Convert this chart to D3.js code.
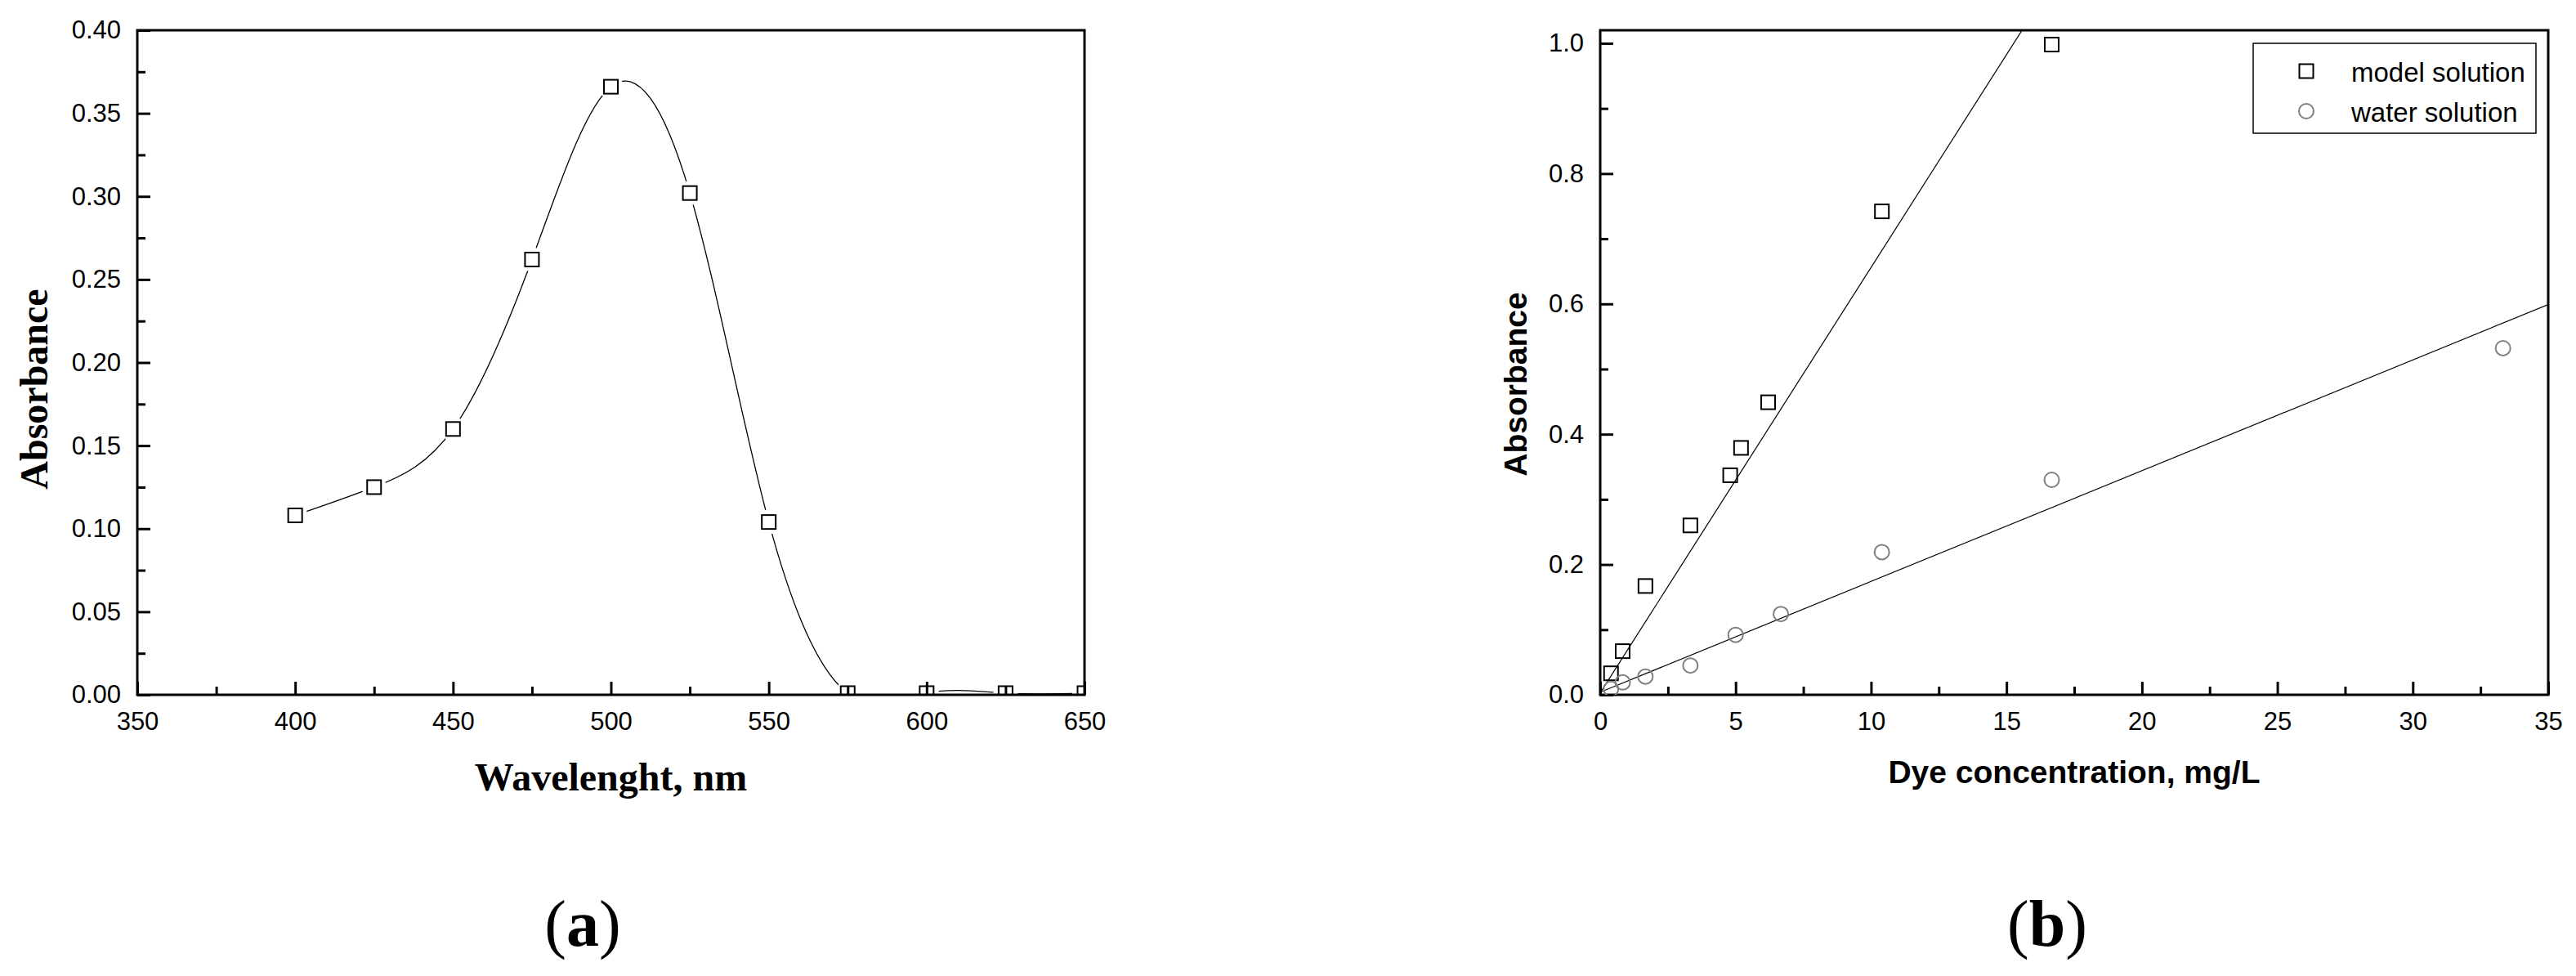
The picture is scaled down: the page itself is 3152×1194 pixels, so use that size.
<!DOCTYPE html>
<html><head><meta charset="utf-8">
<script src="https://cdn.jsdelivr.net/npm/d3@7"></script>
<style>body{margin:0;background:#fff}</style>
</head><body>
<svg id="chart" width="3152" height="1194" xmlns="http://www.w3.org/2000/svg"></svg>
<script>
// ---------- Panel (a): absorption spectrum ----------
const wavelengths = [400, 425, 450, 475, 500, 525, 550, 575, 600, 625, 650];
const absorbanceA = [0.108, 0.125, 0.160, 0.262, 0.366, 0.302, 0.104, 0.001, 0.001, 0.001, 0.001];
const aXMajor = [350, 400, 450, 500, 550, 600, 650];
const aXMinor = [375, 425, 475, 525, 575, 625];
const aYMajor = [0, 0.05, 0.10, 0.15, 0.20, 0.25, 0.30, 0.35, 0.40];
const aYMinor = [0.025, 0.075, 0.125, 0.175, 0.225, 0.275, 0.325, 0.375];

// ---------- Panel (b): calibration ----------
const modelConc = [0.4, 0.83, 1.67, 3.33, 4.8, 5.2, 6.2, 10.4, 16.67];
const modelAbs  = [0.033, 0.067, 0.167, 0.260, 0.337, 0.379, 0.449, 0.742, 0.998];
const waterConc = [0.4, 0.83, 1.67, 3.33, 5.0, 6.67, 10.4, 16.67, 33.33];
const waterAbs  = [0.009, 0.019, 0.028, 0.045, 0.092, 0.124, 0.219, 0.330, 0.532];
const modelFit = {intercept: 0.003, slope: 0.0653};
const waterFit = {intercept: 0.004, slope: 0.0170};
const fitRange = [0, 35];
const bXMajor = [0, 5, 10, 15, 20, 25, 30, 35];
const bXMinor = [2.5, 7.5, 12.5, 17.5, 22.5, 27.5, 32.5];
const bYMajor = [0, 0.2, 0.4, 0.6, 0.8, 1.0];
const bYMinor = [0.1, 0.3, 0.5, 0.7, 0.9];
const legendLabels = ["model solution", "water solution"];

const SANS = "'Liberation Sans', Arial, sans-serif";
const SERIF = "'Liberation Serif', 'Times New Roman', serif";

const svg = d3.select("#chart");
svg.append("rect").attr("width", 3152).attr("height", 1194).attr("fill", "#fff");
const defs = svg.append("defs");

function drawAxes(g, x, y, box, xMajor, xMinor, yMajor, yMinor, xFmt, yFmt) {
  const bottom = g.append("g").attr("transform", `translate(0,${box.bottom})`)
    .call(d3.axisBottom(x).tickValues(xMajor).tickFormat(xFmt).tickSize(-16).tickPadding(21));
  const bottomMinor = g.append("g").attr("transform", `translate(0,${box.bottom})`)
    .call(d3.axisBottom(x).tickValues(xMinor).tickFormat("").tickSize(-10));
  const left = g.append("g").attr("transform", `translate(${box.left},0)`)
    .call(d3.axisLeft(y).tickValues(yMajor).tickFormat(yFmt).tickSize(-16).tickPadding(20));
  const leftMinor = g.append("g").attr("transform", `translate(${box.left},0)`)
    .call(d3.axisLeft(y).tickValues(yMinor).tickFormat("").tickSize(-10));
  [bottom, bottomMinor, left, leftMinor].forEach(a => {
    a.select(".domain").remove();
    a.selectAll(".tick line").attr("stroke", "#000").attr("stroke-width", 3);
    a.selectAll(".tick text").attr("font-family", SANS).attr("font-size", 31).attr("fill", "#000");
  });
  g.append("rect").attr("x", box.left).attr("y", box.top)
    .attr("width", box.right - box.left).attr("height", box.bottom - box.top)
    .attr("fill", "none").attr("stroke", "#000").attr("stroke-width", 3);
}

// ===== Panel (a) =====
const A = {left: 168, right: 1327, top: 37, bottom: 850};
const xA = d3.scaleLinear().domain([350, 650]).range([A.left, A.right]);
const yA = d3.scaleLinear().domain([0, 0.40]).range([A.bottom, A.top]);
const dataA = wavelengths.map((w, i) => ({x: w, y: absorbanceA[i]}));

defs.append("clipPath").attr("id", "clipA").append("rect")
  .attr("x", A.left).attr("y", A.top).attr("width", A.right - A.left).attr("height", A.bottom - A.top);
const maskA = defs.append("mask").attr("id", "maskA").attr("maskUnits", "userSpaceOnUse")
  .attr("x", 0).attr("y", 0).attr("width", 3152).attr("height", 1194);
maskA.append("rect").attr("width", 3152).attr("height", 1194).attr("fill", "#fff");
maskA.selectAll("circle").data(dataA).join("circle")
  .attr("cx", d => xA(d.x)).attr("cy", d => yA(d.y)).attr("r", 15).attr("fill", "#000");

const gA = svg.append("g");
gA.append("g").attr("clip-path", "url(#clipA)").append("path")
  .datum(dataA)
  .attr("d", d3.line().x(d => xA(d.x)).y(d => yA(d.y)).curve(d3.curveNatural))
  .attr("fill", "none").attr("stroke", "#000").attr("stroke-width", 1.3)
  .attr("mask", "url(#maskA)");

drawAxes(gA, xA, yA, A, aXMajor, aXMinor, aYMajor, aYMinor, d3.format("d"), d3.format(".2f"));

gA.append("g").attr("clip-path", "url(#clipA)").selectAll("rect").data(dataA).join("rect")
  .attr("x", d => xA(d.x) - 8.5).attr("y", d => yA(d.y) - 8.5)
  .attr("width", 17).attr("height", 17)
  .attr("fill", "none").attr("stroke", "#000").attr("stroke-width", 2);

gA.append("text").attr("transform", "translate(58,476) rotate(-90)")
  .attr("text-anchor", "middle").attr("font-family", SERIF).attr("font-weight", "bold")
  .attr("font-size", 48).text("Absorbance");
gA.append("text").attr("x", (A.left + A.right) / 2).attr("y", 967)
  .attr("text-anchor", "middle").attr("font-family", SERIF).attr("font-weight", "bold")
  .attr("font-size", 48).text("Wavelenght, nm");

// ===== Panel (b) =====
const B = {left: 1958, right: 3118, top: 37, bottom: 850};
const xB = d3.scaleLinear().domain([0, 35]).range([B.left, B.right]);
const yB = d3.scaleLinear().domain([0, 1.02]).range([B.bottom, B.top]);

defs.append("clipPath").attr("id", "clipB").append("rect")
  .attr("x", B.left).attr("y", B.top).attr("width", B.right - B.left).attr("height", B.bottom - B.top);

const gB = svg.append("g");
const plotB = gB.append("g").attr("clip-path", "url(#clipB)");
const fitLine = d3.line().x(d => xB(d[0])).y(d => yB(d[1]));
[modelFit, waterFit].forEach(f => {
  plotB.append("path")
    .datum(fitRange.map(c => [c, f.intercept + f.slope * c]))
    .attr("d", fitLine).attr("fill", "none").attr("stroke", "#000").attr("stroke-width", 1.2);
});

drawAxes(gB, xB, yB, B, bXMajor, bXMinor, bYMajor, bYMinor, d3.format("d"), d3.format(".1f"));

const plotB2 = gB.append("g").attr("clip-path", "url(#clipB)");
plotB2.selectAll("rect").data(modelConc.map((c, i) => [c, modelAbs[i]])).join("rect")
  .attr("x", d => xB(d[0]) - 8.5).attr("y", d => yB(d[1]) - 8.5)
  .attr("width", 17).attr("height", 17)
  .attr("fill", "none").attr("stroke", "#000").attr("stroke-width", 2);
plotB2.selectAll("circle").data(waterConc.map((c, i) => [c, waterAbs[i]])).join("circle")
  .attr("cx", d => xB(d[0])).attr("cy", d => yB(d[1])).attr("r", 9)
  .attr("fill", "none").attr("stroke", "#808080").attr("stroke-width", 2);

// legend
const leg = gB.append("g");
leg.append("rect").attr("x", 2757).attr("y", 53).attr("width", 346).attr("height", 110)
  .attr("fill", "#fff").attr("stroke", "#000").attr("stroke-width", 1.5);
legendLabels.forEach((lab, i) => {
  const cy = 87 + i * 49;
  if (i === 0) {
    leg.append("rect").attr("x", 2822 - 8.5).attr("y", cy - 8.5).attr("width", 17).attr("height", 17)
      .attr("fill", "none").attr("stroke", "#000").attr("stroke-width", 2);
  } else {
    leg.append("circle").attr("cx", 2822).attr("cy", cy).attr("r", 9)
      .attr("fill", "none").attr("stroke", "#808080").attr("stroke-width", 2);
  }
  leg.append("text").attr("x", 2877).attr("y", cy + 13)
    .attr("font-family", SANS).attr("font-size", 33).text(lab);
});

gB.append("text").attr("transform", "translate(1868,470) rotate(-90)")
  .attr("text-anchor", "middle").attr("font-family", SANS).attr("font-weight", "bold")
  .attr("font-size", 39).text("Absorbance");
gB.append("text").attr("x", (B.left + B.right) / 2).attr("y", 958)
  .attr("text-anchor", "middle").attr("font-family", SANS).attr("font-weight", "bold")
  .attr("font-size", 39).text("Dye concentration, mg/L");

// panel letters
[["a", 713], ["b", 2505]].forEach(([letter, cx]) => {
  const t = svg.append("text").attr("x", cx).attr("y", 1157).attr("text-anchor", "middle")
    .attr("font-family", SERIF).attr("font-size", 80);
  t.append("tspan").text("(");
  t.append("tspan").attr("font-weight", "bold").text(letter);
  t.append("tspan").text(")");
});
</script>
</body></html>
